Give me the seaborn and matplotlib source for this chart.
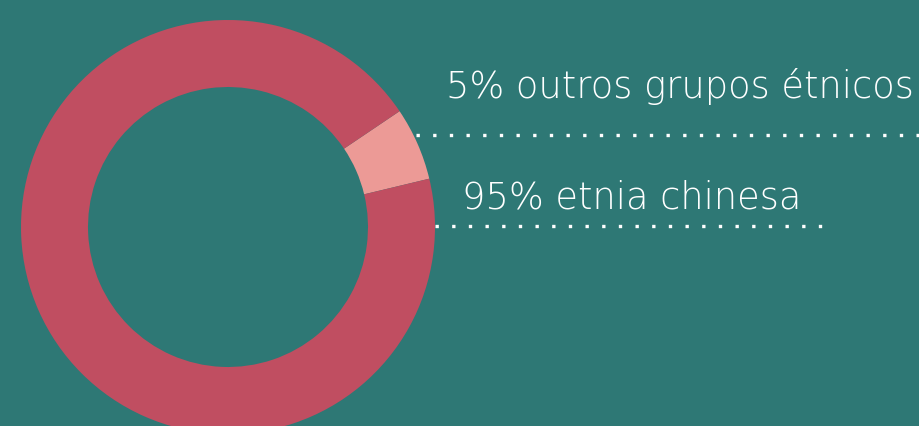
import matplotlib
matplotlib.use("Agg")
import matplotlib.pyplot as plt
import seaborn as sns

# shares as drawn in the ring, plus the labels printed beside it
groups = ['outros grupos étnicos', 'etnia chinesa']
shares = [5.7, 94.3]
label_texts = ['5% outros grupos étnicos', '95% etnia chinesa']
ring_colors = ['#EC9A96', '#C04E61']

BG = '#2E7875'

sns.set_theme(style='white')
plt.rcParams['font.family'] = ['DejaVu Sans']

fig = plt.figure(figsize=(9.2, 4.27), dpi=100, facecolor=BG)
ax = fig.add_axes([0, 0, 1, 1])
ax.set_facecolor(BG)

# pixel-like coordinates, y going up
ax.pie(
    shares,
    colors=ring_colors,
    startangle=13.5,
    counterclock=True,
    center=(228, 199),
    radius=207,
    wedgeprops=dict(width=67, linewidth=0),
    frame=True,
)
ax.set_xlim(0, 920)
ax.set_ylim(0, 427)
ax.set_aspect('equal')
ax.axis('off')

# labels with dotted leader lines
ax.text(446, 329, label_texts[0], color='white', fontsize=26.5,
        fontweight='light', ha='left', va='baseline')
ax.hlines(291, 416, 920, colors='white', linewidth=2.4,
          linestyles=(0, (1, 4.0)), capstyle='butt')

ax.text(462, 218, label_texts[1], color='white', fontsize=26.5,
        fontweight='light', ha='left', va='baseline')
ax.hlines(200, 435, 822, colors='white', linewidth=2.4,
          linestyles=(0, (1, 4.0)), capstyle='butt')

plt.savefig('out.png', dpi=100, facecolor=BG)
